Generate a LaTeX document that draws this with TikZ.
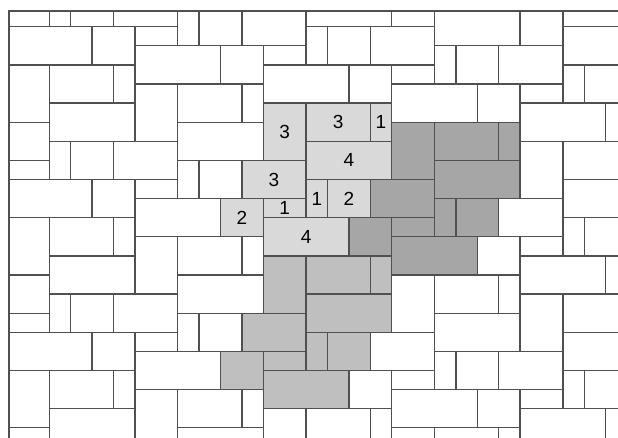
\documentclass[tikz,border=0pt]{standalone}
\usepackage{fontspec}
\setmainfont{Liberation Sans}
\definecolor{edge}{RGB}{80,80,80}
\definecolor{lightg}{RGB}{217,217,217}
\definecolor{midg}{RGB}{191,191,191}
\definecolor{darkg}{RGB}{166,166,166}
\tikzset{
  tileline/.style={draw=edge, line width=1.3pt},
  numlabel/.style={font=\fontsize{19}{19}\selectfont, text=black, inner sep=0pt}
}
\begin{document}
\begin{tikzpicture}[x=1pt,y=1pt]
\useasboundingbox (0,0) rectangle (618,-438);
\fill[white] (0,0) rectangle (618,-438);
\begin{scope}
\clip (9,-11) rectangle (618,-438);
\begin{scope}[shift={(6.5,-7.6)}]
\begin{scope}[x=21.4pt,y=-19.1pt]
  % light grey tiles
  \foreach \a/\b/\c/\d in {12/5/14/8,14/5/17/7,17/5/18/7,14/7/18/9,11/8/14/10,14/9/15/11,15/9/17/11,12/10/14/11,10/10/12/12,12/11/16/13}
    \fill[lightg] (\a,\b) rectangle (\c,\d);
  % medium grey tiles
  \foreach \a/\b/\c/\d in {12/13/14/16,14/13/17/15,17/13/18/15,14/15/18/17,11/16/14/18,14/17/15/19,15/17/17/19,12/18/14/19,10/18/12/20,12/19/16/21}
    \fill[midg] (\a,\b) rectangle (\c,\d);
  % dark grey tiles
  \foreach \a/\b/\c/\d in {17/9/20/11,18/6/20/9,20/6/23/8,23/6/24/8,20/8/24/10,20/10/21/12,21/10/23/12,18/11/20/12,18/12/22/14,16/11/18/13}
    \fill[darkg] (\a,\b) rectangle (\c,\d);
  % periodic tiling
  \foreach \k in {-1,0,1}{
    \foreach \n in {-1,0,1,2,3,4}{
      \pgfmathsetmacro{\dx}{18*\k}
      \pgfmathsetmacro{\dy}{8*\n-5*\k}
      \foreach \a/\b/\c/\d in {0/0/2/1,0/1/4/3,4/1/6/3,0/3/2/6,2/3/5/5,5/3/6/5,2/5/6/7,6/1/8/2,6/2/10/4,10/2/12/4,6/4/8/7,8/4/11/6,11/4/12/6,8/6/12/8,2/7/3/9,3/7/5/9,5/7/8/9,8/0/9/2,9/0/11/2,11/0/14/2,12/2/14/3,14/1/15/3,15/1/17/3,17/1/20/3,14/7/18/9,12/3/16/5,16/3/18/5,12/5/14/8,14/5/17/7,17/5/18/7}
        \draw[tileline] (\a+\dx,\b+\dy) rectangle (\c+\dx,\d+\dy);
    }
  }
  % labels
  \node[numlabel] (l1) at (13,6.5) {3};
  \node[numlabel] (l2) at (15.5,6) {3};
  \node[numlabel] (l3) at (17.5,6) {1};
  \node[numlabel] (l4) at (16,8) {4};
  \node[numlabel] (l5) at (12.5,9) {3};
  \node[numlabel] (l6) at (14.5,10) {1};
  \node[numlabel] (l7) at (16,10) {2};
  \node[numlabel] (l8) at (13,10.5) {1};
  \node[numlabel] (l9) at (11,11) {2};
  \node[numlabel] (l10) at (14,12) {4};
\end{scope}
\end{scope}
\end{scope}
\draw[tileline] (9,-438) -- (9,-11) -- (618,-11);
\end{tikzpicture}
\end{document}
